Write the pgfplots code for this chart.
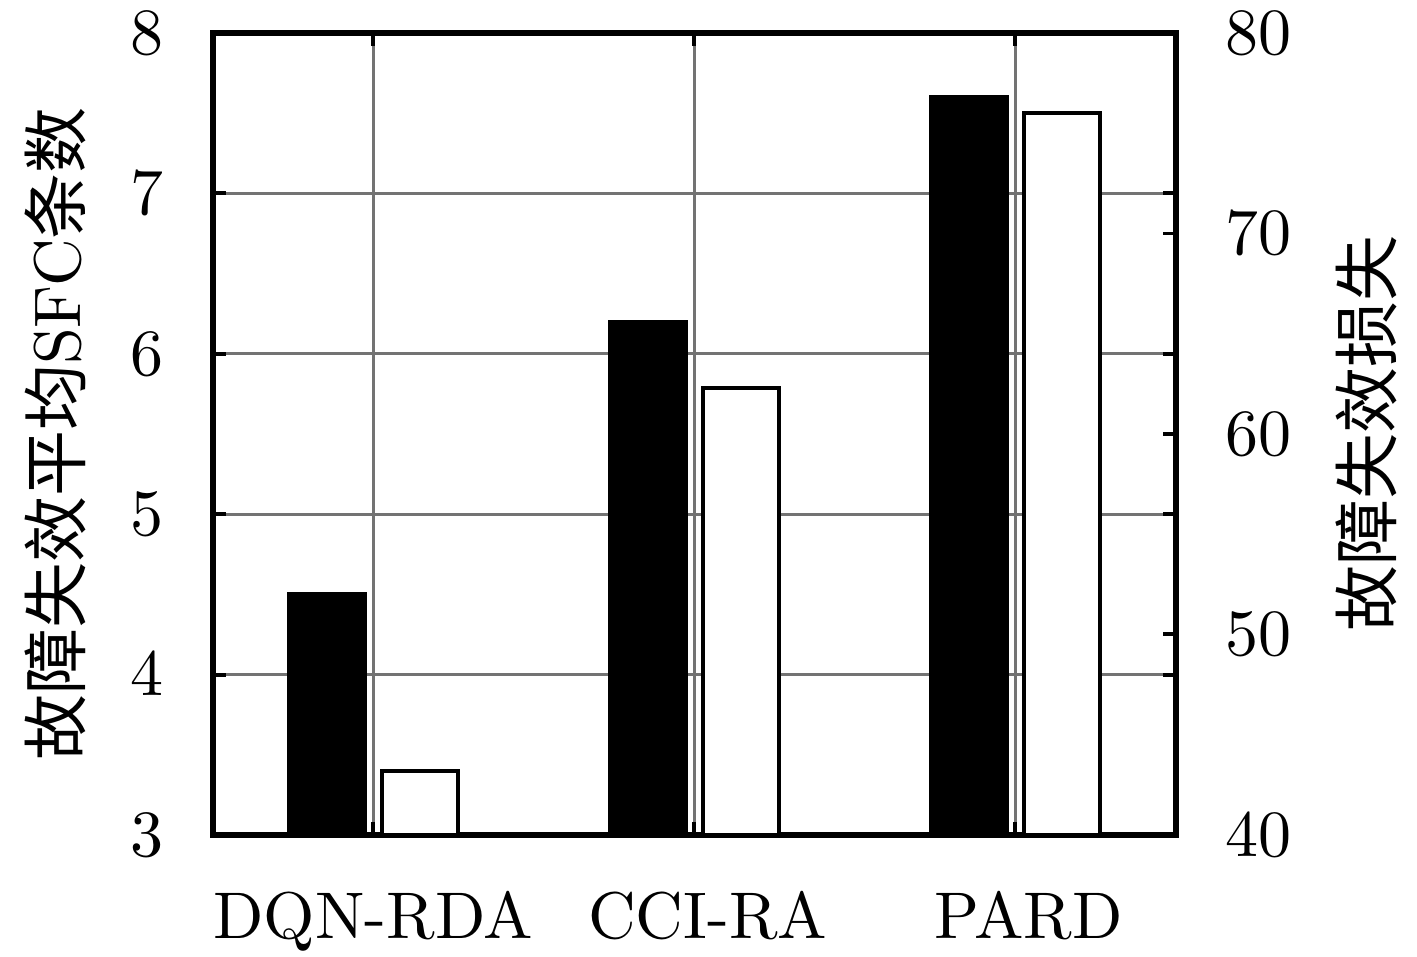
\documentclass[border=0pt]{standalone}
\usepackage{pgfplots}
\pgfplotsset{compat=1.18}
\usepackage{fontspec}
\newfontfamily\cjk{Noto Sans CJK SC}
\begin{document}
\begin{tikzpicture}
\begin{axis}[
  at={(0,0)}, anchor=south west,
  scale only axis, width=145.9pt, height=121.5pt,
  xmin=0.5, xmax=3.5, ymin=3, ymax=8,
  xtick={1,2,3}, xticklabels={DQN-RDA,\hspace*{4pt}CCI-RA,\hspace*{4pt}PARD},
  ytick={3,4,5,6,7,8},
  grid=major, grid style={black!55, line width=0.5pt},
  major tick length=2pt,
  tick style={black, line width=0.6pt},
  axis line style={line width=0.8pt},
  tick label style={font=\fontsize{10}{12}\selectfont},
  label style={font=\fontsize{10}{12}\selectfont},
  xticklabel style={yshift=-5pt},
  yticklabel style={xshift=-4pt},
  ylabel={{\cjk 故障失效平均}SFC{\cjk 条数}},
  ylabel style={at={(axis description cs:-0.164,0.5)}, anchor=center, rotate=0},
]
\addplot[ybar, bar width=11.5pt, bar shift=-7pt, fill=black, draw=black, line width=0.6pt] coordinates {(1,4.5) (2,6.2) (3,7.6)};
\end{axis}
\begin{axis}[
  at={(0,0)}, anchor=south west,
  scale only axis, width=145.9pt, height=121.5pt,
  xmin=0.5, xmax=3.5, ymin=40, ymax=80,
  axis x line=none, axis y line*=right,
  ytick={40,50,60,70,80},
  major tick length=2pt,
  tick style={black, line width=0.6pt},
  axis line style={line width=0.8pt},
  tick label style={font=\fontsize{10}{12}\selectfont},
  label style={font=\fontsize{10}{12}\selectfont},
  yticklabel style={xshift=4pt},
  ylabel={{\cjk 故障失效损失}},
  ylabel style={at={(axis description cs:1.198,0.5)}, anchor=center},
]
\addplot[ybar, bar width=11.5pt, bar shift=7pt, fill=white, draw=black, line width=0.6pt] coordinates {(1,43.2) (2,62.3) (3,76.0)};
\end{axis}
\pgfresetboundingbox
\useasboundingbox (-32.27pt,-18.48pt) rectangle (182.42pt,126.5pt);
\end{tikzpicture}
\end{document}
